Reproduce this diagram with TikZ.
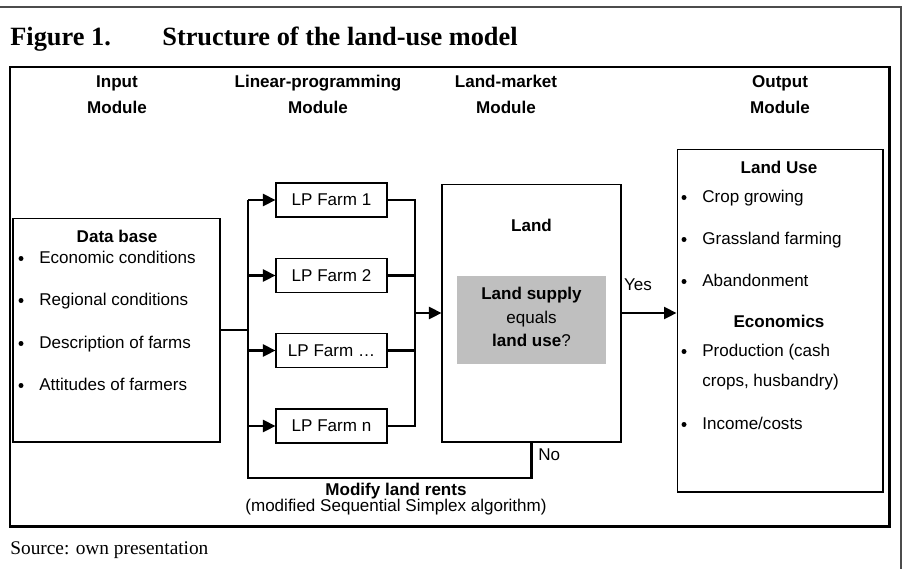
\documentclass[tikz,border=0pt]{standalone}
\usepackage{fontspec}
\setmainfont{Liberation Serif}
\setsansfont{Liberation Sans}
\usetikzlibrary{arrows.meta}

\begin{document}
\begin{tikzpicture}[x=0.02cm,y=-0.02cm,
  txt/.style={font=\sffamily\fontsize{9.7}{11.6}\selectfont, inner sep=0pt},
  bold/.style={font=\sffamily\bfseries\fontsize{9.7}{11.6}\selectfont, inner sep=0pt, anchor=base},
  item/.style={txt, anchor=base west},
  dot/.style={circle, fill, inner sep=0pt, minimum size=0.1cm},
  titletxt/.style={anchor=base west, inner sep=0pt, font=\bfseries\fontsize{15}{18}\selectfont},
  box/.style={draw, line width=0.6pt, inner sep=0pt},
  lpbox/.style={box, txt, minimum width=2.22cm, minimum height=0.68cm},
  link/.style={line width=1.4pt},
  arr/.style={link, -{Triangle[length=0.25cm,width=0.24cm]}}]
\useasboundingbox (0,0) rectangle (902,569);
\draw[black!70, line width=0.8pt] (0,7) -- (901,7) -- (901,569);
\draw[line width=1.7pt] (10,67) rectangle (889,526);
\node[titletxt] (fig) at (10,45) {Figure 1.};
\node[titletxt] (title) at (162,45) {Structure of the land-use model};
\node[anchor=base west, inner sep=0pt, font=\fontsize{11}{13}\selectfont] (source) at (10,554) {Source: own presentation};

\foreach \x/\a/\b [count=\i] in {117/Input/Module,318/Linear-programming/Module,506/Land-market/Module,780/Output/Module}{
  \node[bold] (htop\i) at (\x,87) {\a};
  \node[bold] (hbot\i) at (\x,113) {\b};
}

\node[box, minimum width=4.14cm, minimum height=4.48cm] (data) at (116.5,330) {};
\node[bold] (dbhead) at (117,242) {Data base};
\foreach \y/\t [count=\i] in {263/Economic conditions,305/Regional conditions,348/Description of farms,390/Attitudes of farmers}{
  \node[dot] (dbdot\i) at (21,\y-4.5) {};
  \node[item] (db\i) at (39,\y) {\t};
}

\foreach \y/\n/\t in {200/1/1,275.5/2/2,350.5/3/…,426/4/n}
  \node[lpbox] (lp\n) at (331.5,\y) {LP Farm \t};

\node[box, minimum width=3.58cm, minimum height=5.16cm] (land) at (531.5,313) {};
\node[bold] (landhead) at (531.5,231) {Land};
\node[fill=black!25, minimum width=2.98cm, minimum height=1.76cm, inner sep=0pt] (supply) at (531.5,320) {};
\node[txt, align=center, font=\sffamily\fontsize{9.7}{13.6}\selectfont] (question) at (531.5,317) {\textbf{Land supply}\\equals\\\textbf{land use}?};

\node[box, minimum width=4.12cm, minimum height=6.86cm] (out) at (780,320.5) {};
\node[bold] (usehead) at (779,173) {Land Use};
\node[bold] (econhead) at (779,327) {Economics};
\foreach \y/\t [count=\i] in {202/Crop growing,244/Grassland farming,286/Abandonment,356/Production (cash,429/{Income/costs}}{
  \node[dot] (outdot\i) at (684,\y-4.5) {};
  \node[item] (out\i) at (702,\y) {\t};
}
\node[item] (out6) at (702,386) {crops, husbandry)};

\coordinate (split) at (248,330);
\coordinate (join) at (415,313);
\coordinate (loop) at (248,478);
\draw[link] (data.east) -- (split);
\draw[link] (split |- lp1.west) -- (loop) -| (land.south);
\foreach \n in {1,...,4}
  \draw[arr] (split |- lp\n.west) -- (lp\n.west);
\draw[link] (lp1.east) -| (join |- lp4.east) -- (lp4.east);
\foreach \n in {2,3}
  \draw[link] (lp\n.east) -- (join |- lp\n.east);
\draw[arr] (join) -- (land.west);
\draw[arr] (land.east) -- (out.west |- land.east);

\node[txt] (yes) at (638,285) {Yes};
\node[txt, anchor=west] (no) at (538,455) {No};
\node[bold, anchor=center] (modify) at (396,491) {Modify land rents};
\node[txt] (simplex) at (396,507) {(modified Sequential Simplex algorithm)};
\end{tikzpicture}
\end{document}
